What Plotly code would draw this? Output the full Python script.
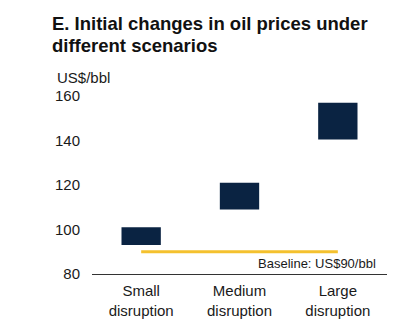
import plotly.graph_objects as go

categories = ["Small<br>disruption", "Medium<br>disruption", "Large<br>disruption"]
low_values = [93, 109, 140.5]
high_values = [101, 121, 157]
baseline = 90
baseline_label = "Baseline: US$90/bbl"
y_ticks = [80, 100, 120, 140, 160]
title_lines = ["E. Initial changes in oil prices under", "different scenarios"]

FONT = "Liberation Sans, Arial, sans-serif"
NAVY = "#0A2342"
GOLD = "#F4C12E"

# plot area in pixels: x 92..387, y 96..274
def px_x(x):
    return (x - 92) / 295

def px_y(y):
    return (274 - y) / 178

fig = go.Figure()
fig.add_trace(go.Bar(
    x=categories,
    y=[h - l for h, l in zip(high_values, low_values)],
    base=low_values,
    width=0.4,
    marker=dict(color=NAVY, line=dict(width=0)),
    hoverinfo="skip",
))
fig.add_trace(go.Scatter(
    x=[categories[0], categories[-1]],
    y=[baseline, baseline],
    mode="lines",
    line=dict(color=GOLD, width=3),
    hoverinfo="skip",
))

annotations = [
    dict(text="<b>" + title_lines[0] + "</b>", xref="paper", yref="paper",
         x=px_x(50), y=px_y(24), xanchor="left", yanchor="middle",
         showarrow=False, font=dict(size=18.5, color="#111")),
    dict(text="<b>" + title_lines[1] + "</b>", xref="paper", yref="paper",
         x=px_x(50), y=px_y(45), xanchor="left", yanchor="middle",
         showarrow=False, font=dict(size=18.5, color="#111")),
    dict(text="US$/bbl", xref="paper", yref="paper",
         x=px_x(55), y=px_y(77), xanchor="left", yanchor="middle",
         showarrow=False, font=dict(size=15)),
    dict(text=baseline_label, xref="paper", yref="paper",
         x=px_x(378), y=px_y(263), xanchor="right", yanchor="middle",
         showarrow=False, font=dict(size=13)),
]

fig.update_layout(
    width=417, height=330,
    margin=dict(l=92, r=30, t=96, b=56, autoexpand=False),
    paper_bgcolor="white", plot_bgcolor="white",
    showlegend=False,
    font=dict(family=FONT, size=15, color="#1a1a1a"),
    xaxis=dict(
        type="category",
        range=[-0.5, 2.5],
        showline=True, linecolor="#333", linewidth=1,
        showgrid=False, ticks="", zeroline=False,
        tickfont=dict(size=15),
        ticklabelstandoff=3,
        automargin=False,
    ),
    yaxis=dict(
        range=[80, 160],
        tickvals=y_ticks,
        showline=False, showgrid=False, zeroline=False,
        ticks="", ticklabelstandoff=11,
        tickfont=dict(size=15),
        automargin=False,
    ),
    annotations=annotations,
)

fig.write_html("out.html")
